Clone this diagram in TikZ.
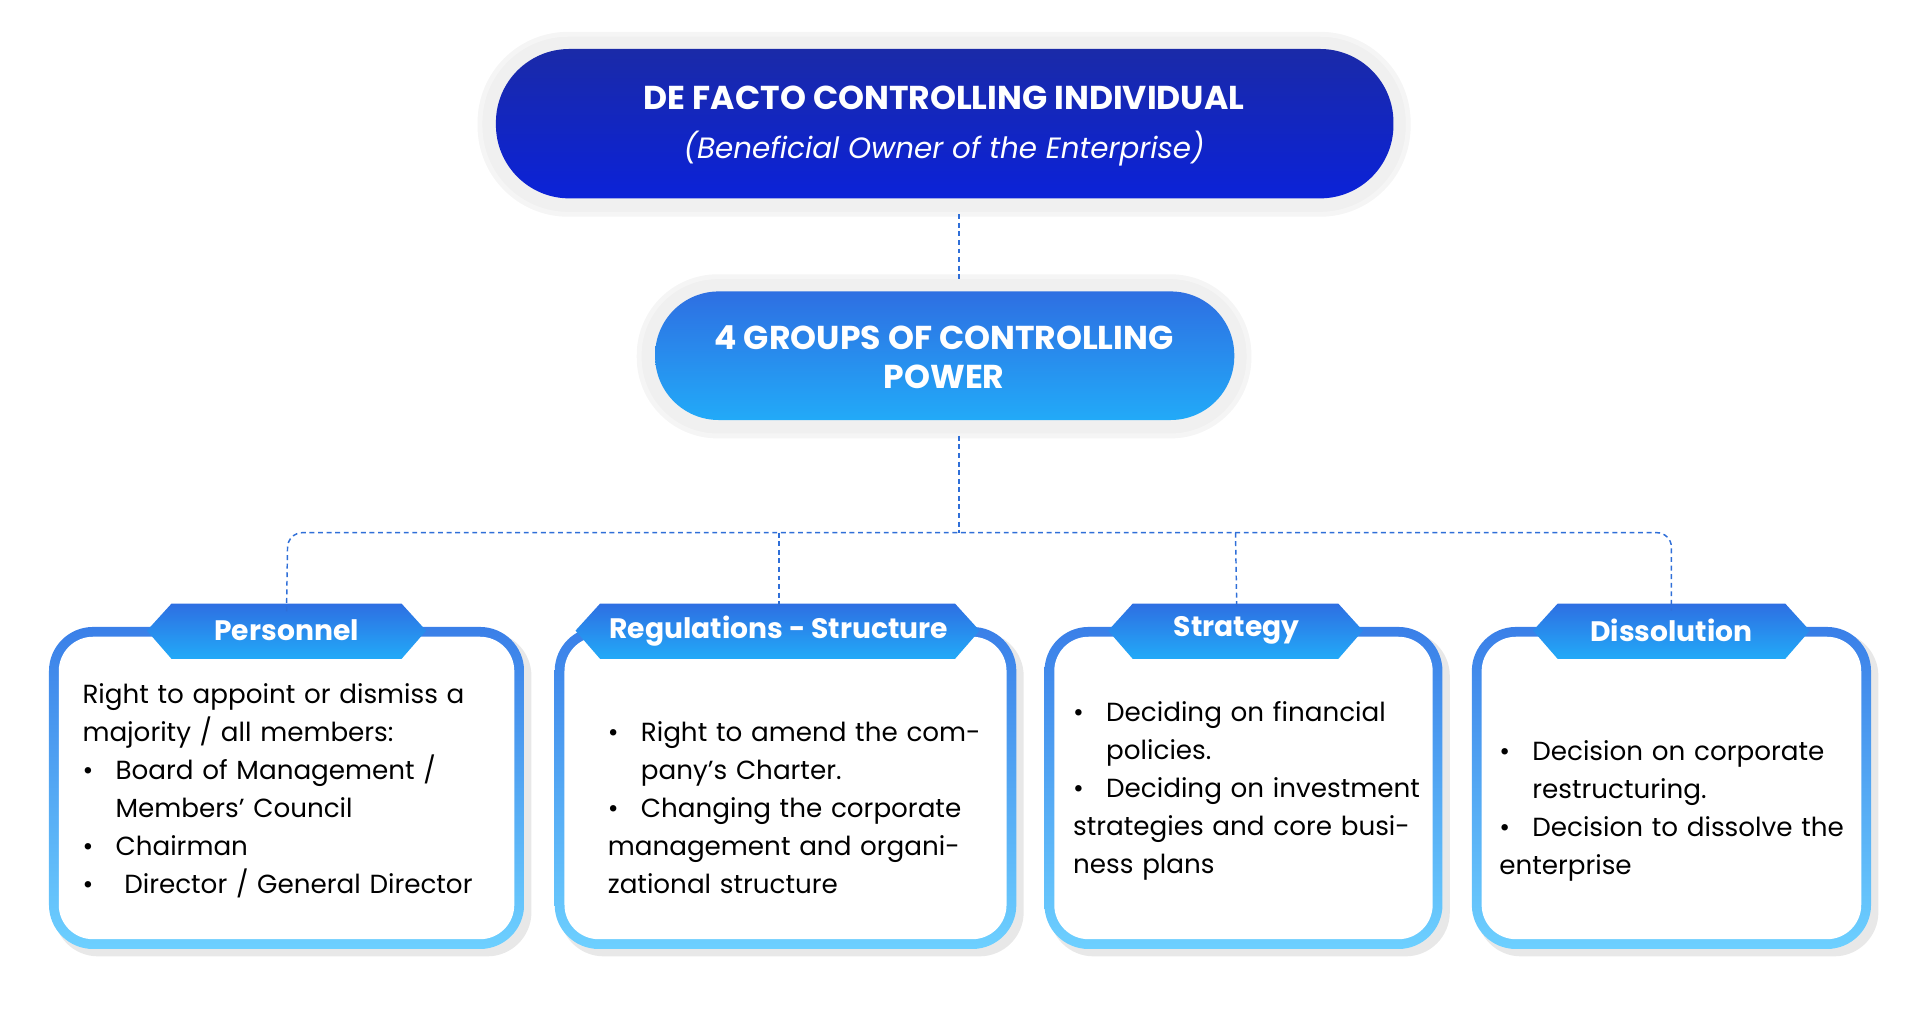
\documentclass[tikz,border=0pt]{standalone}
\usepackage{fontspec}
\setmainfont{Poppins}
\usetikzlibrary{shapes.geometric}
\definecolor{dk1}{HTML}{1A2AA8}\definecolor{dk2}{HTML}{0B22D8}
\definecolor{md1}{HTML}{2E6FE2}\definecolor{md2}{HTML}{22AAF8}
\definecolor{bd1}{HTML}{3A7FE8}\definecolor{bd2}{HTML}{6DD0FF}
\definecolor{ln}{HTML}{2F6FD8}
\newcommand{\bul}[1]{\par\hangindent=13.5pt\hangafter=1\noindent\makebox[13.5pt][l]{\textbullet}#1}
\tikzset{
 halo/.style={fill=gray!12,draw=gray!8,line width=2pt},
 conn/.style={draw=ln,dashed,line width=0.6pt,dash pattern=on 2pt off 1.5pt},
 body/.style={anchor=north west,inner sep=0pt,font=\fontsize{10.7}{15.5}\selectfont,align=left},
 tab/.style={font=\bfseries\fontsize{11.5}{13}\selectfont,text=white}
}
\newcommand{\card}[5]{% name,x1,x2,tabL,tabR
 \fill[gray!35,opacity=0.5,rounded corners=18pt] (#2+4,516) rectangle (#3+6,781);
 \shade[top color=bd1,bottom color=bd2,rounded corners=18pt] (#2,512) rectangle (#3,775);
 \fill[white,rounded corners=14pt] (#2+8,520) rectangle (#3-8,767);
 \shade[top color=md1,bottom color=md2] (#4,515)--(#4+20,493)--(#5-20,493)--(#5,515)--(#5-20,538)--(#4+20,538)--cycle;
}
\begin{document}
\begin{tikzpicture}[x=0.5pt,y=-0.5pt]
\useasboundingbox (0,0) rectangle (1568,825);
% top
\fill[halo,rounded corners=36pt] (392,28) rectangle (1150,175);
\shade[top color=dk1,bottom color=dk2,rounded corners=30pt] (405,40) rectangle (1138,162);
\node[text=white,font=\bfseries\fontsize{13.5}{16}\selectfont] (top) at (771,80) {DE FACTO CONTROLLING INDIVIDUAL};
\node[text=white,font=\itshape\fontsize{12}{14}\selectfont] (topsub) at (771,121) {(Beneficial Owner of the Enterprise)};
\coordinate (topb) at (783,175);
% second
\fill[halo,rounded corners=32pt] (522,226) rectangle (1020,356);
\shade[top color=md1,bottom color=md2,rounded corners=26pt] (535,238) rectangle (1008,343);
\node[text=white,align=center,font=\bfseries\fontsize{13.5}{16}\selectfont] (grp) at (771,292) {4 GROUPS OF CONTROLLING\\POWER};
\coordinate (grpt) at (783,228);
\coordinate (grpb) at (783,356);
\draw[conn] (topb)--(grpt);
% cards
\card{p}{40}{428}{120}{348}
\card{r}{453}{830}{470}{800}
\card{s}{853}{1178}{905}{1113}
\card{d}{1202}{1528}{1252}{1478}
\node[tab] (tp) at (234,515) {Personnel};
\node[tab] (tr) at (636,515) {Regulations - Structure};
\node[tab] (ts) at (1010,515) {Strategy};
\node[tab] (td) at (1365,515) {Dissolution};
\coordinate (j) at (783,435);
\draw[conn] (grpb)--(j);
\draw[conn,rounded corners=6pt] (tp.north) ++(0,-0) -- (235,435) -- (1365,435) -- (td.north);
\draw[conn] (636,435)--(tr.north);
\draw[conn] (1009,435)--(ts.north);
% texts
\node[body,text width=175pt] (bp) at (67,558) {\noindent Right to appoint or dismiss a majority / all members:
\bul{Board of Management / Members' Council}\bul{Chairman}\bul{ Director / General Director}};
\node[body,text width=155pt] (br) at (496,574) {\bul{Right to amend the company's Charter.}\bul{Changing the corporate management and organizational structure}};
\node[body,text width=142pt] (bs) at (876,558) {\bul{Deciding on financial policies.}\bul{Deciding on investment strategies and core business plans}};
\node[body,text width=145pt] (bd) at (1224,590) {\bul{Decision on corporate restructuring.}\bul{Decision to dissolve the enterprise}};
\end{tikzpicture}
\end{document}
